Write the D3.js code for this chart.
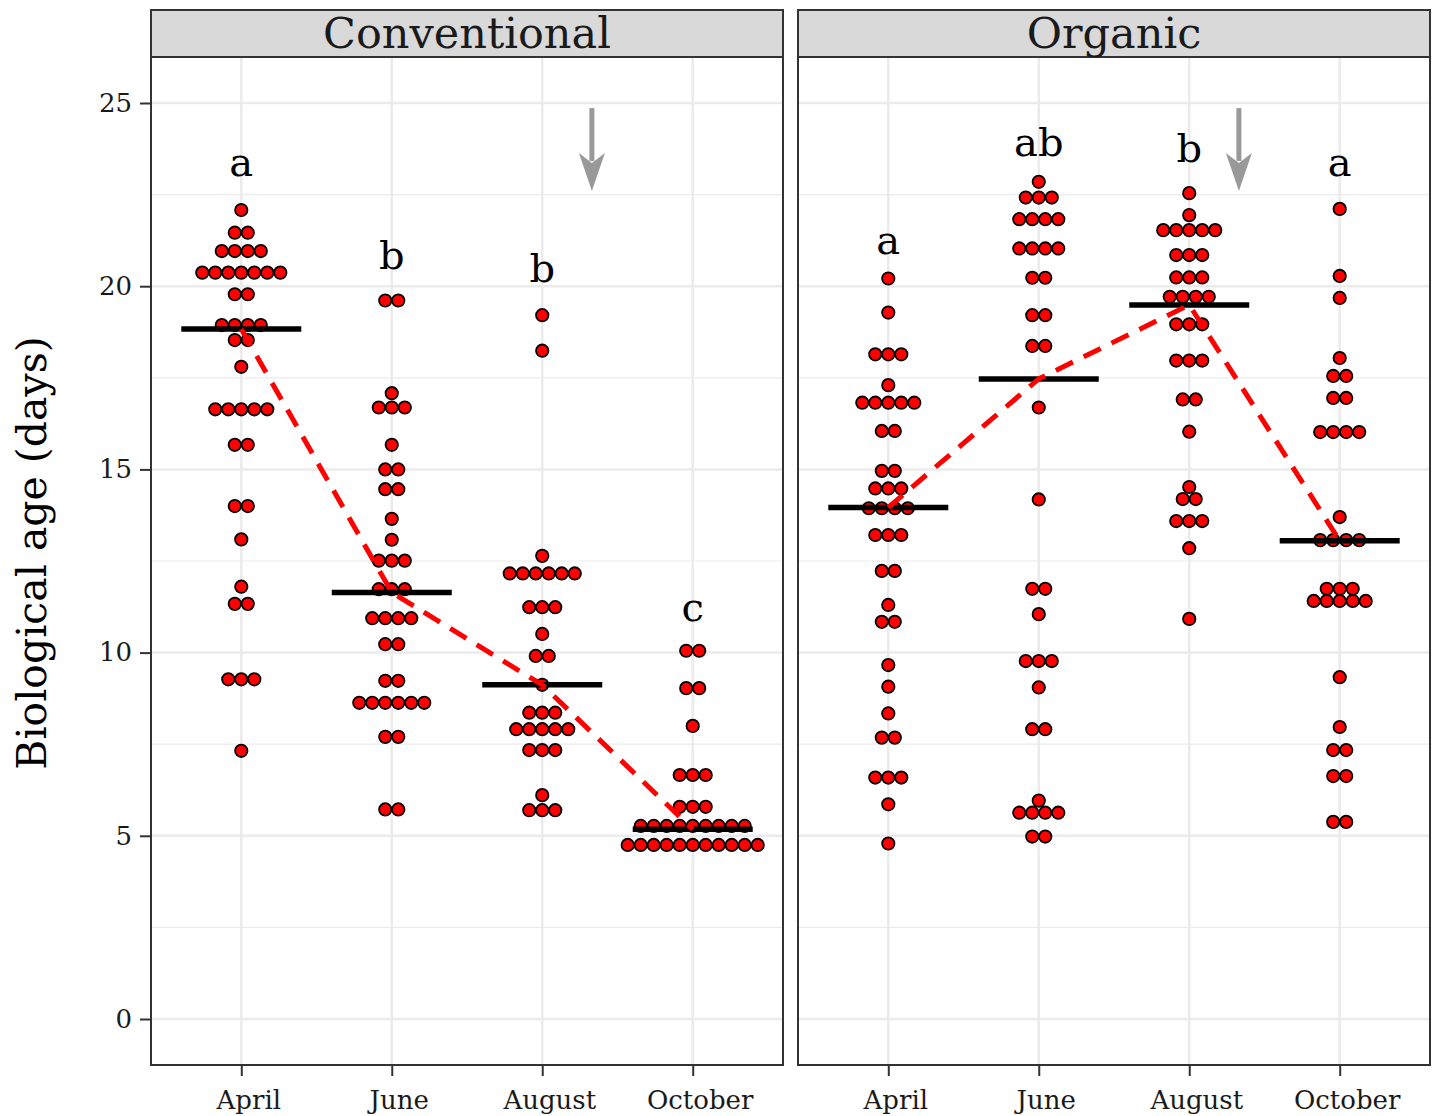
<!DOCTYPE html>
<html>
<head>
<meta charset="utf-8">
<script src="https://cdn.jsdelivr.net/npm/d3@7"></script>
<style>
  body { margin: 0; background: #fff; }
  text { font-family: "DejaVu Serif", serif; }
</style>
</head>
<body>
<div id="chart"></div>
<script>
const months = ["April", "June", "August", "October"];
const systems = ["Conventional", "Organic"];

// observations (days), one entry per insect
const convApril = [22.08, 21.46, 21.46, 20.96, 20.96, 20.96, 20.96, 20.37, 20.37, 20.37, 20.37, 20.37, 20.37, 20.37,
  19.78, 19.78, 18.94, 18.94, 18.94, 18.94, 18.53, 18.53, 17.8, 16.64, 16.64, 16.64, 16.64, 16.64, 15.67, 15.67,
  14.0, 14.0, 13.09, 11.8, 11.33, 11.33, 9.27, 9.27, 9.27, 7.32];
const convJune = [19.61, 19.61, 17.08, 16.69, 16.69, 16.69, 15.67, 15.0, 15.0, 14.46, 14.46, 13.65, 13.08,
  12.51, 12.51, 12.51, 11.73, 11.73, 11.73, 10.94, 10.94, 10.94, 10.94, 10.23, 10.23, 9.23, 9.23,
  8.63, 8.63, 8.63, 8.63, 8.63, 8.63, 7.7, 7.7, 5.72, 5.72];
const convAugust = [19.21, 18.24, 12.64, 12.16, 12.16, 12.16, 12.16, 12.16, 12.16, 11.24, 11.24, 11.24, 10.51,
  9.91, 9.91, 9.12, 8.36, 8.36, 8.36, 7.91, 7.91, 7.91, 7.91, 7.91, 7.34, 7.34, 7.34, 6.11, 5.7, 5.7, 5.7];
const convOctober = [10.05, 10.05, 9.03, 9.03, 8.0, 6.66, 6.66, 6.66, 5.79, 5.79, 5.79,
  5.27, 5.27, 5.27, 5.27, 5.27, 5.27, 5.27, 5.27, 5.27,
  4.75, 4.75, 4.75, 4.75, 4.75, 4.75, 4.75, 4.75, 4.75, 4.75, 4.75];
const orgApril = [20.21, 19.28, 18.14, 18.14, 18.14, 17.3, 16.82, 16.82, 16.82, 16.82, 16.82, 16.05, 16.05,
  14.96, 14.96, 14.48, 14.48, 14.48, 13.94, 13.94, 13.94, 13.94, 13.21, 13.21, 13.21, 12.23, 12.23, 11.3,
  10.84, 10.84, 9.66, 9.07, 8.34, 7.68, 7.68, 6.59, 6.59, 6.59, 5.86, 4.79];
const orgJune = [22.85, 22.42, 22.42, 22.42, 21.83, 21.83, 21.83, 21.83, 21.03, 21.03, 21.03, 21.03, 20.23, 20.23,
  19.21, 19.21, 18.37, 18.37, 16.69, 14.18, 11.74, 11.74, 11.05, 9.77, 9.77, 9.77, 9.05, 7.91, 7.91,
  5.96, 5.63, 5.63, 5.63, 5.63, 4.98, 4.98];
const orgAugust = [22.54, 21.94, 21.53, 21.53, 21.53, 21.53, 21.53, 20.85, 20.85, 20.85, 20.24, 20.24, 20.24,
  19.71, 19.71, 19.71, 19.71, 18.96, 18.96, 18.96, 17.97, 17.97, 17.97, 16.91, 16.91, 16.03,
  14.52, 14.19, 14.19, 13.59, 13.59, 13.59, 12.85, 10.92];
const orgOctober = [22.11, 20.28, 19.68, 18.04, 17.55, 17.55, 16.95, 16.95, 16.02, 16.02, 16.02, 16.02, 13.7,
  13.07, 13.07, 13.07, 13.07, 11.74, 11.74, 11.74, 11.41, 11.41, 11.41, 11.41, 11.41, 9.33, 7.97,
  7.34, 7.34, 6.63, 6.63, 5.38, 5.38];

const medianConv = [18.83, 11.64, 9.12, 5.18];
const medianOrg = [13.96, 17.47, 19.49, 13.05];

const lettersConv = ["a", "b", "b", "c"];
const letterYConv = [23.4, 20.85, 20.5, 11.25];
const lettersOrg = ["a", "ab", "b", "a"];
const letterYOrg = [21.26, 23.94, 23.77, 23.39];

// grey arrow: position between August and October, from top to tip
const arrowX = 3.33;
const arrowTop = 24.86, arrowTip = 22.6;

const yTicks = [0, 5, 10, 15, 20, 25];
const yMinor = [2.5, 7.5, 12.5, 17.5, 22.5];

const panels = [
  { name: systems[0], groups: [convApril, convJune, convAugust, convOctober], medians: medianConv, letters: lettersConv, letterY: letterYConv },
  { name: systems[1], groups: [orgApril, orgJune, orgAugust, orgOctober], medians: medianOrg, letters: lettersOrg, letterY: letterYOrg }
];

const width = 1434, height = 1116;
const panelTop = 57, panelH = 1008, panelW = 632, stripH = 47;
const panelLeft = [151, 798];
const dotD = 13;

const svg = d3.select("#chart").append("svg").attr("width", width).attr("height", height);

const y = d3.scaleLinear().domain([0, 25]).range([1019 - panelTop, 103 - panelTop]);
const x = d3.scalePoint().domain(months).range([0, panelW]).padding(0.6);
const xc = d3.scaleLinear().domain([1, 4]).range([x(months[0]), x(months[3])]);

panels.forEach((p, pi) => {
  const g = svg.append("g").attr("transform", `translate(${panelLeft[pi]},${panelTop})`);

  // grid
  g.selectAll(".minor").data(yMinor).join("line")
    .attr("x1", 0).attr("x2", panelW).attr("y1", d => y(d)).attr("y2", d => y(d))
    .attr("stroke", "#ebebeb").attr("stroke-width", 1.2);
  g.selectAll(".major").data(yTicks).join("line")
    .attr("x1", 0).attr("x2", panelW).attr("y1", d => y(d)).attr("y2", d => y(d))
    .attr("stroke", "#ebebeb").attr("stroke-width", 2.5);
  g.selectAll(".vgrid").data(months).join("line")
    .attr("x1", d => x(d)).attr("x2", d => x(d)).attr("y1", 0).attr("y2", panelH)
    .attr("stroke", "#ebebeb").attr("stroke-width", 2.5);

  // dots, stacked and centred when values repeat
  p.groups.forEach((vals, gi) => {
    const cx = x(months[gi]);
    const rows = d3.groups(vals, d => d);
    rows.forEach(([v, arr]) => {
      const n = arr.length;
      g.append("g").selectAll("circle").data(arr).join("circle")
        .attr("cx", (d, i) => cx + (i - (n - 1) / 2) * dotD)
        .attr("cy", y(v))
        .attr("r", dotD / 2 - 0.3)
        .attr("fill", "#ff0000")
        .attr("stroke", "#000")
        .attr("stroke-width", 1.8);
    });
  });

  // medians
  g.selectAll(".med").data(p.medians).join("line")
    .attr("x1", (d, i) => x(months[i]) - 60).attr("x2", (d, i) => x(months[i]) + 60)
    .attr("y1", d => y(d)).attr("y2", d => y(d))
    .attr("stroke", "#000").attr("stroke-width", 5.5);

  g.append("path")
    .datum(p.medians)
    .attr("fill", "none")
    .attr("stroke", "#ff0000")
    .attr("stroke-width", 5)
    .attr("stroke-dasharray", "19,12")
    .attr("d", d3.line().x((d, i) => x(months[i])).y(d => y(d)));

  // letters
  g.selectAll(".let").data(p.letters).join("text")
    .attr("x", (d, i) => x(months[i]))
    .attr("y", (d, i) => y(p.letterY[i]))
    .attr("text-anchor", "middle").attr("dominant-baseline", "central")
    .attr("font-size", 40).attr("fill", "#000")
    .text(d => d);

  // arrow
  const ax = xc(arrowX);
  g.append("line").attr("x1", ax).attr("x2", ax).attr("y1", y(arrowTop)).attr("y2", y(arrowTip) - 30)
    .attr("stroke", "#999").attr("stroke-width", 5);
  g.append("path")
    .attr("d", `M${ax - 13},${y(arrowTip) - 38}L${ax},${y(arrowTip) - 28}L${ax + 13},${y(arrowTip) - 38}L${ax},${y(arrowTip)}Z`)
    .attr("fill", "#999");

  // border
  g.append("rect").attr("x", 0).attr("y", 0).attr("width", panelW).attr("height", panelH)
    .attr("fill", "none").attr("stroke", "#333").attr("stroke-width", 2);

  // strip
  const s = svg.append("g").attr("transform", `translate(${panelLeft[pi]},${panelTop - stripH})`);
  s.append("rect").attr("width", panelW).attr("height", stripH)
    .attr("fill", "#d9d9d9").attr("stroke", "#333").attr("stroke-width", 2);
  s.append("text").attr("x", panelW / 2).attr("y", stripH / 2 - 1)
    .attr("text-anchor", "middle").attr("dominant-baseline", "central")
    .attr("font-size", 43).attr("fill", "#1a1a1a").text(p.name);

  // x axis
  const xa = g.append("g").attr("transform", `translate(0,${panelH})`)
    .call(d3.axisBottom(x).tickSize(11).tickPadding(15));
  xa.select(".domain").remove();
  xa.selectAll("line").attr("stroke", "#333").attr("stroke-width", 2);
  xa.selectAll("text").attr("font-size", 26).attr("fill", "#1a1a1a").attr("font-family", "DejaVu Serif")
    .attr("dx", 7);

  if (pi === 0) {
    const ya = g.append("g").call(d3.axisLeft(y).tickValues(yTicks).tickSize(11).tickPadding(8));
    ya.select(".domain").remove();
    ya.selectAll("line").attr("stroke", "#333").attr("stroke-width", 2);
    ya.selectAll("text").attr("font-size", 26).attr("fill", "#1a1a1a").attr("font-family", "DejaVu Serif");
  }
});

svg.append("text")
  .attr("transform", `translate(46,${panelTop + panelH / 2 - 8}) rotate(-90)`)
  .attr("text-anchor", "middle")
  .attr("font-size", 41).attr("fill", "#000")
  .text("Biological age (days)");
</script>
</body>
</html>
